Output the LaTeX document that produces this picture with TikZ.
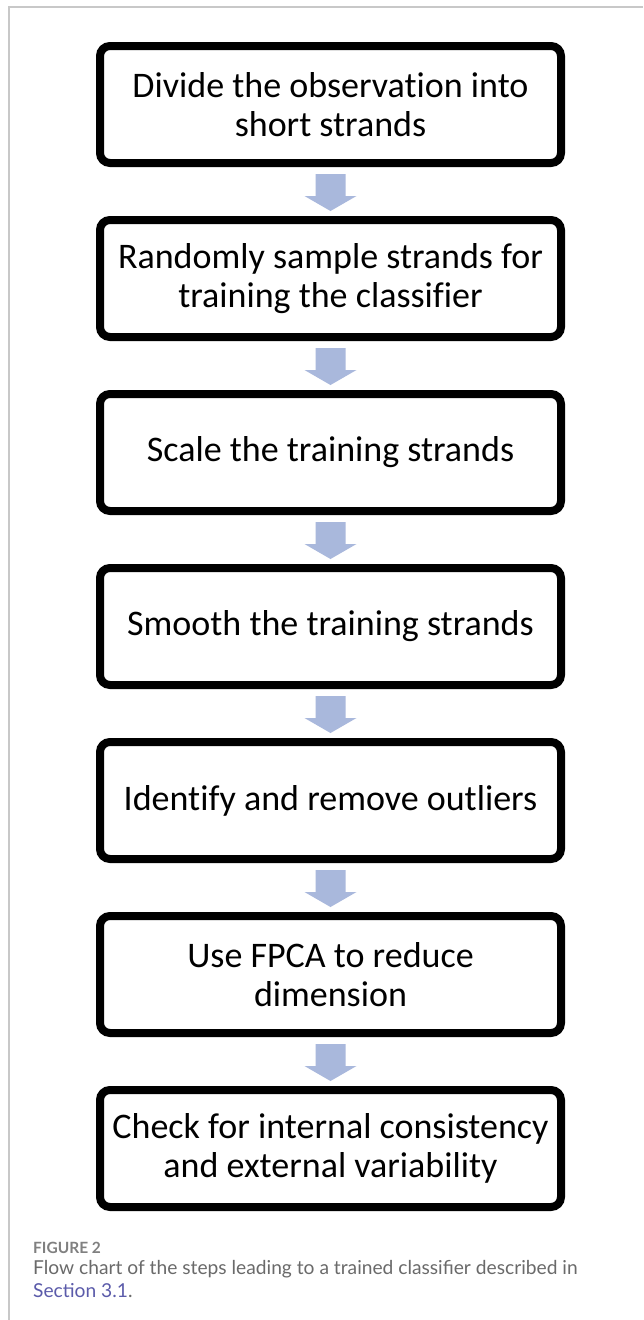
\documentclass[tikz,border=0pt]{standalone}
\usepackage{fontspec}
\usetikzlibrary{calc}
\newfontfamily\boxfont[Ligatures=NoCommon]{Carlito}
\newfontfamily\capfont{Lato}
\definecolor{arrowblue}{HTML}{A9B8DC}
\definecolor{framegray}{HTML}{C8C8C8}
\definecolor{capgray}{HTML}{6A6A6A}
\definecolor{linkblue}{HTML}{5B5BAA}
\tikzset{
  stepbox/.style={draw=black, line width=8pt, rounded corners=10pt, fill=white,
    minimum width=461pt, minimum height=117pt, align=center, inner sep=0pt,
    font=\boxfont\fontsize{36}{39}\selectfont},
  flowarrow/.style={fill=arrowblue, draw=none},
  captext/.style={anchor=base west, inner sep=0pt, text=capgray},
}
\begin{document}
\begin{tikzpicture}[x=1pt,y=-1pt]
\useasboundingbox (0,0) rectangle (643,1320);
\fill[white] (0,0) rectangle (643,1320);
\draw[framegray, line width=1.2pt] (9,1320) -- (9,7) -- (643,7);
\node[stepbox] (b1) at (330.5,104.5) {Divide the observation into\\short strands};
\node[stepbox] (b2) at (330.5,278.5) {Randomly sample strands for\\training the classifier};
\node[stepbox] (b3) at (330.5,452.5) {Scale the training strands};
\node[stepbox] (b4) at (330.5,626.5) {Smooth the training strands};
\node[stepbox] (b5) at (330.5,800.5) {Identify and remove outliers};
\node[stepbox] (b6) at (330.5,974.5) {Use FPCA to reduce\\dimension};
\node[stepbox] (b7) at (330.5,1148.5) {Check for internal consistency\\and external variability};
\foreach \a/\b in {b1/b2,b2/b3,b3/b4,b4/b5,b5/b6,b6/b7}{
  \fill[flowarrow] ($(\a.south)+(-15,7)$) -- ($(\a.south)+(15,7)$) -- ($(\a.south)+(15,29)$)
    -- ($(\a.south)+(26,29)$) -- ($(\b.north)+(0,-5)$) -- ($(\a.south)+(-26,29)$)
    -- ($(\a.south)+(-15,29)$) -- cycle;
}
\node[captext, font=\capfont\bfseries\fontsize{15.5}{17}\selectfont, text=capgray!85] (fig) at (33,1253) {FIGURE 2};
\node[captext, font=\capfont\fontsize{19.2}{22}\selectfont] (cap1) at (33,1274) {Flow chart of the steps leading to a trained classifier described in};
\node[captext, font=\capfont\fontsize{19.2}{22}\selectfont, text=linkblue] (cap2) at (33,1297) {Section 3.1\textcolor{capgray}{.}};
\end{tikzpicture}
\end{document}
